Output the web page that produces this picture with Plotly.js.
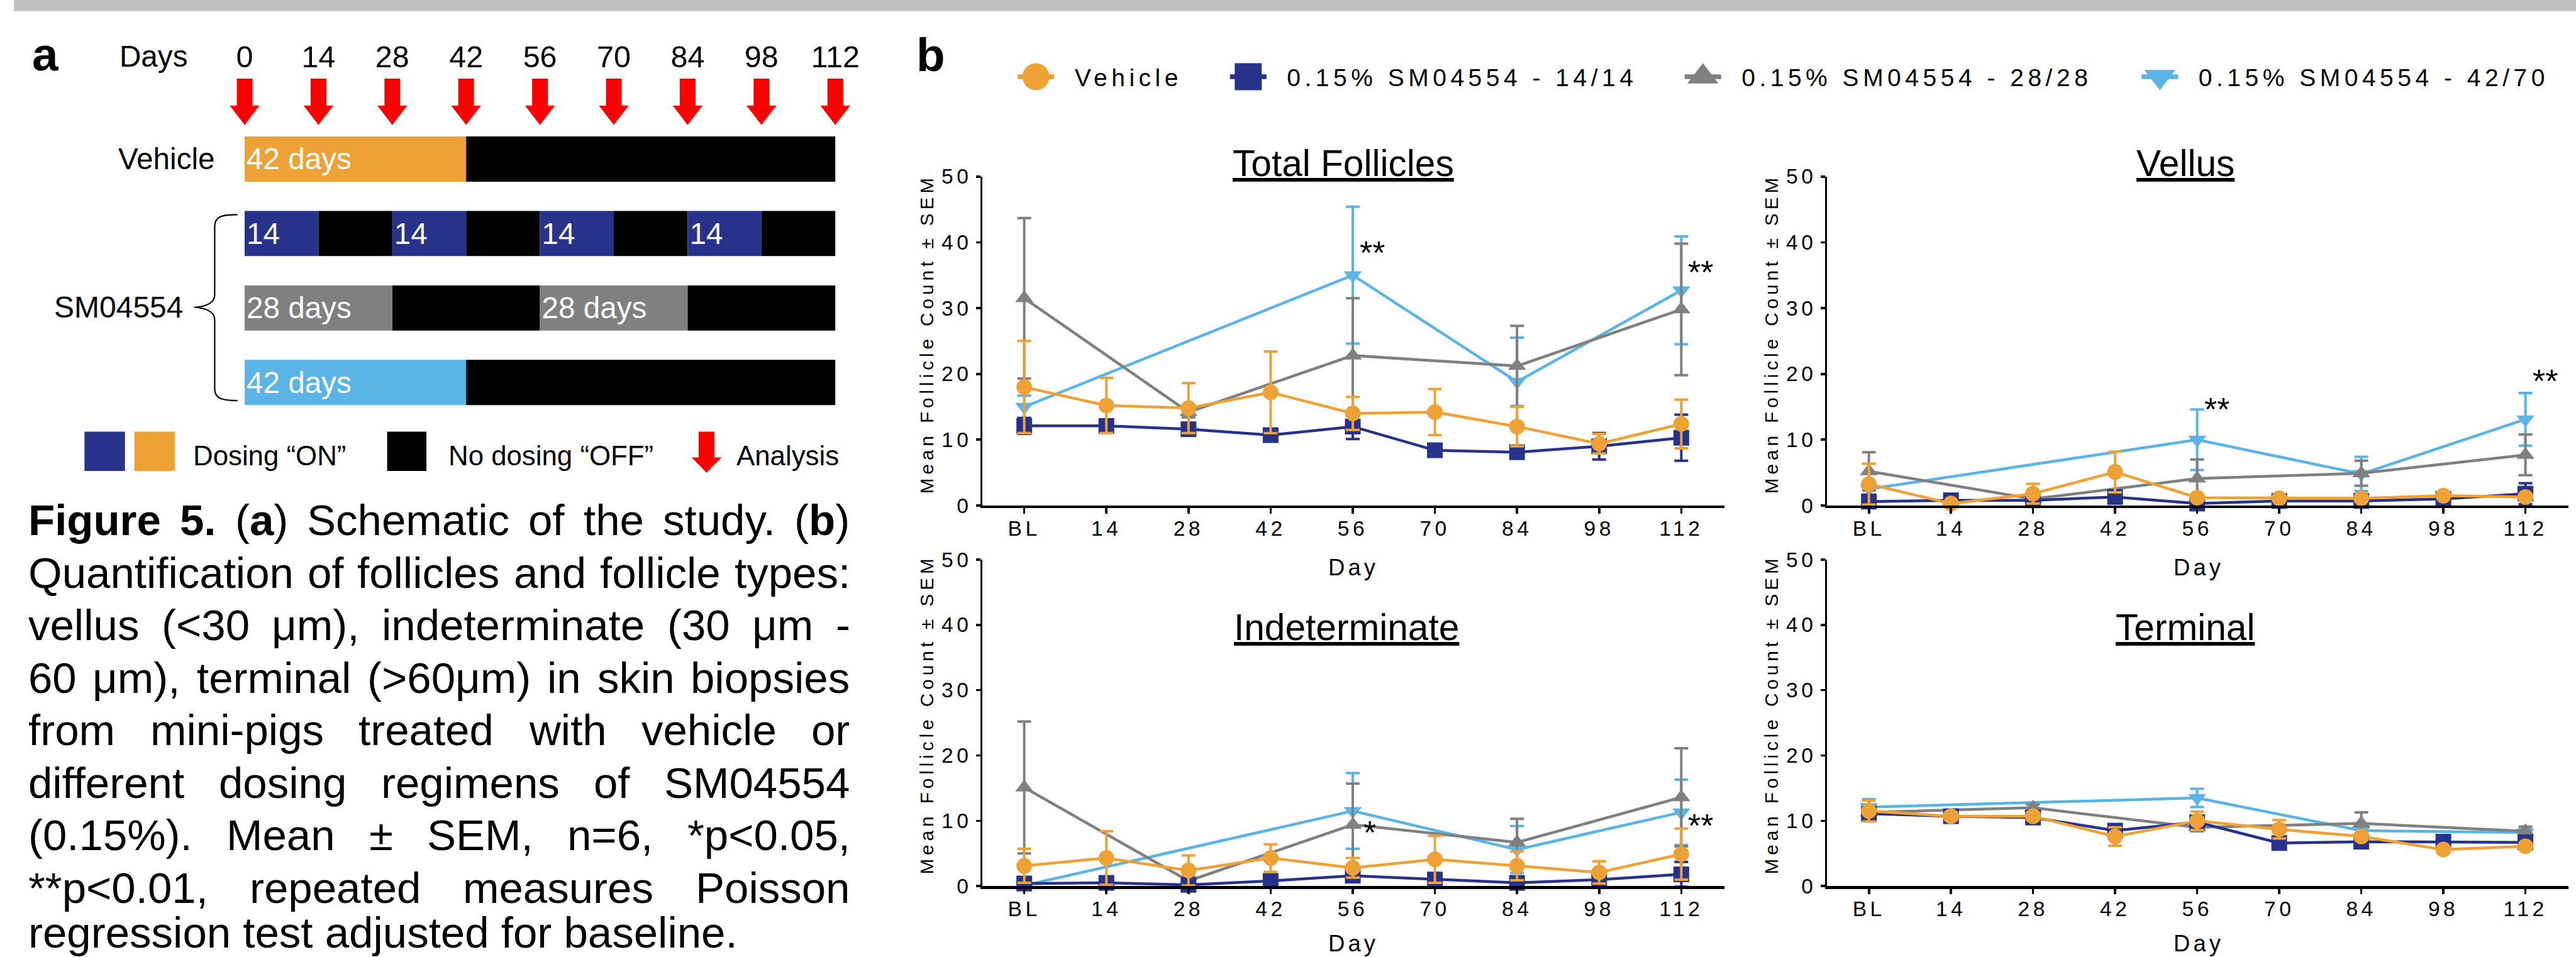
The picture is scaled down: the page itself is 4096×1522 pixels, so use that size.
<!DOCTYPE html>
<html><head><meta charset="utf-8">
<script src="https://cdn.plot.ly/plotly-3.0.1.min.js"></script>
<style>
html,body{margin:0;padding:0;background:#fff;overflow:hidden}
#chart{width:4096px;height:1522px}
.xtick text,.x2tick text,.x3tick text,.x4tick text,.ytick text,.y2tick text,.y3tick text,.y4tick text{letter-spacing:5.5px}
.legendpoints path.scatterpts{transform:translate(61.5px,0px) scale(2.68)}
.legendlines path{d:path("M32.5,0h58")}
</style></head><body><div id="chart"></div><script>
// ---------------- data ----------------
const days = [0,14,28,42,56,70,84,98,112];
const dayLabels = ['BL','14','28','42','56','70','84','98','112'];
const daysGray = [0,28,56,84,112];
const daysBlue = [0,56,84,112];

const seriesNames = ['Vehicle','0.15% SM04554 - 14/14','0.15% SM04554 - 28/28','0.15% SM04554 - 42/70'];
const seriesColors = ['#EEA236','#27338A','#808080','#5AB4E5'];
const seriesSymbols = ['circle','square','triangle-up','triangle-down'];

// Total follicles
const totVeh = [18.0,15.2,14.8,17.2,14.0,14.2,12.0,9.4,12.4];
const totVehErr = [7.0,4.2,3.8,6.2,2.5,3.5,3.0,1.5,3.7];
const totNav = [12.1,12.1,11.6,10.7,12.0,8.4,8.1,9.0,10.3];
const totNavErr = [1.2,1.0,0.8,0.8,1.9,0.5,0.5,2.0,3.5];
const totGry = [31.5,14.2,22.8,21.2,29.8];
const totGryErr = [12.2,0.8,8.7,6.1,10.0];
const totBlu = [15.0,35.0,18.8,32.7];
const totBluErr = [1.7,10.4,6.7,8.2];
// Vellus
const velVeh = [3.25,0.3,1.8,5.1,1.2,1.1,1.1,1.5,1.3];
const velVehErr = [3.1,0.3,1.5,3.1,0.4,0.3,0.3,0.3,0.4];
const velNav = [0.6,0.8,0.8,1.3,0.3,0.7,0.7,1.0,1.8];
const velNavErr = [0.6,0.5,0.5,0.8,0.3,0.4,0.4,0.5,1.6];
const velGry = [5.2,1.0,4.1,4.9,7.7];
const velGryErr = [2.9,0.5,2.9,1.9,3.1];
const velBlu = [2.5,10.0,4.8,13.1];
const velBluErr = [0.8,4.6,2.6,4.0];
// Indeterminate
const indVeh = [3.1,4.3,2.4,4.3,2.8,4.1,3.1,2.1,4.9];
const indVehErr = [2.6,4.1,2.3,2.1,1.5,3.6,2.2,1.7,3.9];
const indNav = [0.4,0.5,0.2,0.8,1.6,1.0,0.5,1.0,1.8];
const indNavErr = [0.4,0.5,0.2,0.8,1.0,1.0,0.5,0.8,1.9];
const indGry = [15.1,0.8,9.4,6.7,13.6];
const indGryErr = [10.1,0.6,6.3,3.6,7.5];
const indBlu = [0.1,11.5,5.6,11.3];
const indBluErr = [0.1,5.8,3.6,5.0];
// Terminal
const terVeh = [11.5,10.7,10.7,7.6,10.0,8.7,7.6,5.6,6.1];
const terVehErr = [1.6,0.6,0.6,1.4,1.4,1.4,0.5,0.5,0.5];
const terNav = [11.1,10.7,10.5,8.5,9.8,6.6,6.8,6.8,6.7];
const terNavErr = [0.6,0.8,0.8,0.6,0.8,0.5,0.5,0.7,0.7];
const terGry = [11.3,12.0,9.0,9.6,8.4];
const terGryErr = [0.6,0.5,0.6,1.7,0.7];
const terBlu = [12.1,13.5,8.5,8.2];
const terBluErr = [1.2,1.4,0.5,0.5];

const panelTitles = ['Total Follicles','Vellus','Indeterminate','Terminal'];

// significance marks
const sigPanel = [0,0,1,1,2,2];
const sigDay = [56,112,56,112,56,112];
const sigY = [39.6,36.6,15.8,20.1,9.4,10.4];
const sigText = ['**','**','**','**','*','**'];

// schematic (panel a)
const rowLabels = ['Vehicle','14/14','28/28','42/70'];
const rowOnColors = ['#EEA236','#27338A','#808080','#5AB4E5'];
const segRow   = [0,0, 1,1,1,1,1,1,1,1, 2,2,2,2, 3,3];
const segStart = [0,42, 0,14,28,42,56,70,84,98, 0,28,56,84, 0,42];
const segLen   = [42,70, 14,14,14,14,14,14,14,14, 28,28,28,28, 42,70];
const segOn    = [1,0, 1,0,1,0,1,0,1,0, 1,0,1,0, 1,0];
const segText  = ['42 days','', '14','','14','','14','','14','', '28 days','','28 days','', '42 days',''];
const analysisDays = [0,14,28,42,56,70,84,98,112];

const captionLines = [
 ['<b>Figure</b>','<b>5.</b>','(<b>a</b>)','Schematic','of','the','study.','(<b>b</b>)'],
 ['Quantification','of','follicles','and','follicle','types:'],
 ['vellus','(<30','μm),','indeterminate','(30','μm','-'],
 ['60','μm),','terminal','(>60μm)','in','skin','biopsies'],
 ['from','mini-pigs','treated','with','vehicle','or'],
 ['different','dosing','regimens','of','SM04554'],
 ['(0.15%).','Mean','±','SEM,','n=6,','*p<0.05,'],
 ['**p<0.01,','repeated','measures','Poisson'],
 ['regression test adjusted for baseline.']
];

// ---------------- layout helpers ----------------
const W = 4096, H = 1522;
const FONT = '"Liberation Sans", Arial, sans-serif';
const PX = x => x / W, PY = y => 1 - y / H;

function A(text, x, y, size, xanchor, extra) {
  return Object.assign({text: text, x: PX(x), y: PY(y), xref: 'paper', yref: 'paper',
    showarrow: false, xanchor: xanchor || 'center', yanchor: 'middle',
    font: {family: FONT, size: size, color: '#000'}}, extra || {});
}

const traces = [];
const annotations = [];
const shapes = [];

// ---------------- panel b subplots ----------------
const panels = [
  {xa:'x', ya:'y',  d:[[totVeh,totVehErr],[totNav,totNavErr],[totGry,totGryErr],[totBlu,totBluErr]]},
  {xa:'x2',ya:'y2', d:[[velVeh,velVehErr],[velNav,velNavErr],[velGry,velGryErr],[velBlu,velBluErr]]},
  {xa:'x3',ya:'y3', d:[[indVeh,indVehErr],[indNav,indNavErr],[indGry,indGryErr],[indBlu,indBluErr]]},
  {xa:'x4',ya:'y4', d:[[terVeh,terVehErr],[terNav,terNavErr],[terGry,terGryErr],[terBlu,terBluErr]]}
];
const seriesDays = [days, days, daysGray, daysBlue];
const drawOrder = [3,2,1,0];
panels.forEach(p => {
  drawOrder.forEach(k => {
    traces.push({
      type:'scatter', mode:'lines+markers', xaxis:p.xa, yaxis:p.ya,
      x: seriesDays[k], y: p.d[k][0], name: seriesNames[k], showlegend:false,
      line:{color:seriesColors[k], width:4.5},
      marker:{symbol:seriesSymbols[k], color:seriesColors[k], size:25, line:{width:0}},
      error_y:{type:'data', array:p.d[k][1], visible:true, color:seriesColors[k], thickness:4, width:11},
      cliponaxis:false, hoverinfo:'skip'
    });
  });
});
// legend-only entries
seriesNames.forEach((nm,k) => {
  traces.push({type:'scatter', mode:'lines+markers', x:[null], y:[null], xaxis:'x', yaxis:'y',
    name:'<span style="letter-spacing:6.5px">' + nm + '</span>',
    legend: k === 0 ? 'legend' : 'legend' + (k+1), showlegend:true,
    marker:{symbol:seriesSymbols[k], color:seriesColors[k], size:16, line:{width:0}},
    line:{color:seriesColors[k], width:7.5}, hoverinfo:'skip'});
});

// ---------------- panel a schematic ----------------
traces.push({
  type:'bar', orientation:'h', xaxis:'x5', yaxis:'y5',
  y: segRow, x: segLen, base: segStart, width: 0.607,
  marker:{color: segOn.map((o,i) => o ? rowOnColors[segRow[i]] : '#000000'), line:{width:0}},
  text: segText, textposition:'inside', insidetextanchor:'start', textangle:0,
  textfont:{family:FONT, size:47.6, color:'#ffffff'},
  insidetextfont:{family:FONT, size:47.6, color:'#ffffff'},
  showlegend:false, hoverinfo:'skip'
});
const arrowY = -0.632, shaftLen = 0.449;
traces.push({
  type:'scatter', mode:'markers', xaxis:'x5', yaxis:'y5',
  x: analysisDays, y: analysisDays.map(() => arrowY),
  marker:{symbol:'triangle-down', size:41, color:'#FF0000', line:{width:0}},
  error_y:{type:'data', symmetric:false, array: analysisDays.map(() => 0),
           arrayminus: analysisDays.map(() => shaftLen), color:'#FF0000', thickness:25, width:0},
  cliponaxis:false, showlegend:false, hoverinfo:'skip'
});

// ---------------- axes ----------------
const xDomL = [1562.3/W, 2742.1/W], xDomR = [2905.4/W, 4084.3/W];
const yDomT = [1-804.0/H, 1-280.7/H], yDomB = [1-1409.3/H, 1-889.8/H];
function xAx(domain, anchor) {
  return {domain, anchor, range:[-7.11,119.37], autorange:false, tickmode:'array',
    tickvals:days, ticktext:dayLabels, ticks:'outside', ticklen:8.4, tickwidth:3.7, tickcolor:'#000',
    showline:true, linewidth:4.2, linecolor:'#000', showgrid:false, zeroline:false,
    tickfont:{family:FONT, size:33.6, color:'#000'}, ticklabelstandoff:-5, fixedrange:true};
}
function yAx(domain, anchor) {
  return {domain, anchor, range:[0,50], autorange:false, tickmode:'array',
    tickvals:[0,10,20,30,40,50], ticks:'outside', ticklen:6.5, tickwidth:3.7, tickcolor:'#000',
    showline:true, linewidth:3.7, linecolor:'#000', showgrid:false, zeroline:false,
    tickfont:{family:FONT, size:33.6, color:'#000'}, fixedrange:true};
}

// ---------------- annotations ----------------
// panel labels
annotations.push(A('<b>a</b>', 49, 86.1, 74.6, 'left'));
annotations.push(A('<b>b</b>', 1455, 87.0, 74.6, 'left'));
annotations.push(A('Days', 188, 89.4, 47.6, 'left'));
annotations.push(Object.assign(A('Vehicle', 343.2, 0, 47.6, 'right'), {yref:'y5', y:0}));
annotations.push(A('SM04554', 292.9, 488.7, 48, 'right'));
// dosing legend texts
annotations.push(A('Dosing “ON”', 305, 724.4, 43.8, 'left'));
annotations.push(A('No dosing “OFF”', 710.6, 724.4, 43.8, 'left'));
annotations.push(A('Analysis', 1168.5, 724.4, 43.8, 'left'));

// subplot titles
const titlePos = [[2136.0,259.5],[3474.5,259.5],[2140.6,997.2],[3474.5,997.2]];
panelTitles.forEach((t,i) => annotations.push(A('<u>'+t+'</u>', titlePos[i][0], titlePos[i][1], 58.6, 'center')));
// axis titles
const yTitlePos = [[1473.7,531.6],[2816.6,531.6],[1473.7,1136.9],[2816.6,1136.9]];
yTitlePos.forEach(p => annotations.push(A('<span style="letter-spacing:5.9px">Mean Follicle Count ± SEM</span>', p[0], p[1], 29.8, 'center', {textangle:-90})));
const xTitlePos = [[2151.5,902.3],[3495.5,902.3],[2151.5,1500.5],[3495.5,1500.5]];
xTitlePos.forEach(p => annotations.push(A('<span style="letter-spacing:5.1px">Day</span>', p[0], p[1], 36.4, 'center')));
// significance
const axNames = [['x','y'],['x2','y2'],['x3','y3'],['x4','y4']];
sigText.forEach((t,i) => {
  const ax = axNames[sigPanel[i]];
  annotations.push({text:t, x:sigDay[i], y:sigY[i], xref:ax[0], yref:ax[1], showarrow:false,
    xanchor:'center', yanchor:'middle', xshift: t.length > 1 ? 31 : 27, yshift:-12,
    font:{family:FONT, size:52, color:'#000'}});
});

// caption (justified)
const ctx = document.createElement('canvas').getContext('2d');
const capFS = 69, capLeft = 43.8, capRight = 1350.6, capBase0 = 851.9, capStep = 83.47;
function measureWord(w) {
  let total = 0;
  w.split(/(<b>.*?<\/b>)/).forEach(part => {
    if (!part) return;
    let bold = false, t = part;
    if (part.startsWith('<b>')) { bold = true; t = part.slice(3, -4); }
    ctx.font = (bold ? 'bold ' : '') + capFS + 'px "Liberation Sans"';
    total += ctx.measureText(t).width;
  });
  return total;
}
function esc(w) {
  return w.split(/(<\/?b>)/).map(p => (p === '<b>' || p === '</b>') ? p :
    p.replace(/</g,'&lt;').replace(/>/g,'&gt;')).join('');
}
captionLines.forEach((words, k) => {
  const base = capBase0 + capStep * k;
  let cy = base - 0.3465 * capFS;
  if (words.length === 1) {
    cy = Math.min(cy, H - 0.56 * capFS);   // keep the last line inside the page
    annotations.push(A(esc(words[0]), capLeft - 1, cy, capFS, 'left'));
    return;
  }
  const widths = words.map(measureWord);
  const sum = widths.reduce((a,b) => a + b, 0);
  const gap = (capRight - capLeft - sum) / (words.length - 1);
  let x = capLeft;
  words.forEach((w,i) => {
    annotations.push(A(esc(w), x - 1, cy, capFS, 'left'));
    x += widths[i] + gap;
  });
});

// ---------------- shapes ----------------
const S = 0.9327;
shapes.push({type:'rect', xref:'paper', yref:'paper', x0:PX(22.4), x1:1, y0:PY(17.7), y1:1,
  fillcolor:'#C0C0C0', line:{width:0}, layer:'below'});
function pathPx(pts) { // pts in reference px
  return pts.map(seg => seg[0] + seg.slice(1).map((v,i) => i % 2 === 0 ? PX(v*S).toFixed(6) : PY(v*S).toFixed(6))
    .reduce((acc,v,i) => acc + (i % 2 === 0 ? (i ? ' ' : '') + v : ',' + v), '')).join(' ');
}
// brace
shapes.push({type:'path', xref:'paper', yref:'paper', line:{color:'#000', width:2.2},
  path: pathPx([['M',405,366],['C',380,366,366,368,366,386],['L',366,503],['C',366,516,352,523,331,524],
                ['C',352,525,366,532,366,545],['L',366,663],['C',366,680,380,683,405,683]])});
// dosing legend squares
[[144,213,'#27338A'],[229,298,'#EEA236'],[660,727,'#000000']].forEach(s => {
  shapes.push({type:'rect', xref:'paper', yref:'paper', x0:PX(s[0]*S), x1:PX(s[1]*S),
    y0:PY(803*S), y1:PY(736*S), fillcolor:s[2], line:{width:0}});
});
// analysis legend arrow
shapes.push({type:'path', xref:'paper', yref:'paper', fillcolor:'#FF0000', line:{width:0},
  path: pathPx([['M',1191,736],['L',1218,736],['L',1218,780],['L',1230,780],['L',1204.5,806],
                ['L',1179,780],['L',1191,780],['Z']])});

// ---------------- legends ----------------
function leg(cx) {
  return {x:(cx - 61.5)/W, xanchor:'left', y:1 - 122.2/H, yanchor:'middle', orientation:'h',
    itemwidth:113, font:{family:FONT, size:39, color:'#000'}, bgcolor:'rgba(0,0,0,0)',
    borderwidth:0, itemsizing:'trace', itemclick:false, itemdoubleclick:false};
}

const layout = {
  width:W, height:H, margin:{l:0,r:0,t:0,b:0}, paper_bgcolor:'#fff', plot_bgcolor:'rgba(0,0,0,0)',
  font:{family:FONT, color:'#000'}, barmode:'overlay', showlegend:true,
  legend:leg(1647.2), legend2:leg(1984.8), legend3:leg(2707.7), legend4:leg(3434.3),
  xaxis:xAx(xDomL,'y'), yaxis:yAx(yDomT,'x'),
  xaxis2:xAx(xDomR,'y2'), yaxis2:yAx(yDomT,'x2'),
  xaxis3:xAx(xDomL,'y3'), yaxis3:yAx(yDomB,'x3'),
  xaxis4:xAx(xDomR,'y4'), yaxis4:yAx(yDomB,'x4'),
  xaxis5:{domain:[0,0.35], anchor:'y5', side:'top', range:[-46.39,124.57], autorange:false,
    tickmode:'array', tickvals:analysisDays, ticktext:analysisDays.map(String), ticks:'',
    showline:false, showgrid:false, zeroline:false, tickfont:{family:FONT, size:48.5, color:'#000'}, fixedrange:true},
  yaxis5:{domain:[0.54008, 1-118/H], anchor:'x5', range:[3.775,-1.140], autorange:false,
    showticklabels:false, ticks:'', showline:false, showgrid:false, zeroline:false, fixedrange:true},
  annotations, shapes
};

Plotly.newPlot('chart', traces, layout, {displayModeBar:false, staticPlot:true});
</script></body></html>
